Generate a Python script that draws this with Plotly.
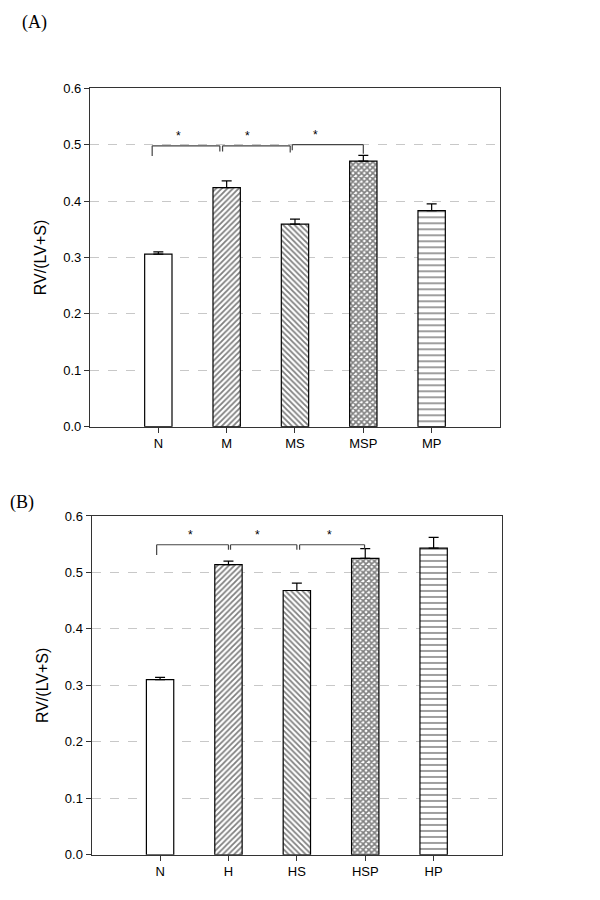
import plotly.graph_objects as go

# Panel A data
cats_a = ["N", "M", "MS", "MSP", "MP"]
vals_a = [0.306, 0.424, 0.359, 0.471, 0.383]
err_a = [0.004, 0.012, 0.009, 0.010, 0.012]

# Panel B data
cats_b = ["N", "H", "HS", "HSP", "HP"]
vals_b = [0.310, 0.514, 0.468, 0.525, 0.543]
err_b = [0.004, 0.006, 0.013, 0.017, 0.019]

patterns = ["", "/", "\\", "x", "-"]
pat_sizes = [6, 4, 4, 4, 6]
pat_solid = [0.2, 0.45, 0.45, 0.65, 0.25]

# significance brackets: (start index, end index, bracket level, left tick bottom, right tick bottom, star x)
brackets_a = [(-0.09, 0.90, 0.498, 0.480, 0.488, 0.30),
              (0.94, 1.93, 0.498, 0.488, 0.486, 1.31),
              (1.96, 3.00, 0.500, 0.490, 0.484, 2.30)]
brackets_b = [(-0.05, 1.00, 0.549, 0.531, 0.540, 0.44),
              (1.03, 2.00, 0.549, 0.540, 0.540, 1.43),
              (2.04, 2.99, 0.549, 0.540, 0.542, 2.48)]
star_offset = 0.018

fig = go.Figure()

def add_panel(cats, vals, errs, xa, ya):
    fig.add_trace(go.Bar(
        x=cats, y=vals, xaxis=xa, yaxis=ya, width=0.4,
        marker=dict(color="white", line=dict(color="black", width=1.2),
                    pattern=dict(shape=patterns, size=pat_sizes, solidity=pat_solid,
                                 fgcolor="black", bgcolor="white", fillmode="overlay")),
        error_y=dict(type="data", array=errs, arrayminus=[0]*len(errs), symmetric=False,
                     color="black", thickness=1.2, width=5),
        showlegend=False))

add_panel(cats_a, vals_a, err_a, "x", "y")
add_panel(cats_b, vals_b, err_b, "x2", "y2")

def add_brackets(brs, xr, yr):
    for x0, x1, lvl, b0, b1, sx in brs:
        for (a, b, c, d) in [(x0, lvl, x1, lvl), (x0, b0, x0, lvl), (x1, b1, x1, lvl)]:
            fig.add_shape(type="line", xref=xr, yref=yr, x0=a, y0=b, x1=c, y1=d,
                          line=dict(color="#444", width=1.2))
        fig.add_annotation(xref=xr, yref=yr, x=sx, y=lvl + star_offset, text="*",
                           showarrow=False, font=dict(family="Liberation Sans", size=12, color="black"))

add_brackets(brackets_a, "x", "y")
add_brackets(brackets_b, "x2", "y2")

axis_common = dict(showline=True, mirror=True, linecolor="#333", linewidth=1.3,
                   ticks="outside", ticklen=5, tickcolor="#333", automargin=False,
                   tickfont=dict(family="Liberation Sans", size=13, color="black"))
yaxis_common = dict(axis_common, range=[0, 0.6], dtick=0.1, tickformat=".1f",
                    showgrid=True, gridcolor="#c8c8c8", griddash="dash", gridwidth=1,
                    zeroline=False,
                    title=dict(text="RV/(LV+S)", font=dict(family="Liberation Sans", size=16, color="black"), standoff=12))
xaxis_common = dict(axis_common, range=[-1, 5], showgrid=False, zeroline=False)

fig.update_layout(
    template="none",
    width=600, height=900, margin=dict(l=0, r=0, t=0, b=0, autoexpand=False),
    paper_bgcolor="white", plot_bgcolor="white",
    xaxis=dict(xaxis_common, domain=[0.15, 0.8333], anchor="y"),
    yaxis=dict(yaxis_common, domain=[0.5259, 0.9019], anchor="x"),
    xaxis2=dict(xaxis_common, domain=[0.1528, 0.8367], anchor="y2"),
    yaxis2=dict(yaxis_common, domain=[0.0503, 0.4267], anchor="x2"),
    bargap=0.6,
)

fig.add_annotation(xref="paper", yref="paper", x=20/600, y=1-22/900, text="(A)", showarrow=False,
                   xanchor="left", yanchor="middle",
                   font=dict(family="Liberation Serif", size=18, color="black"))
fig.add_annotation(xref="paper", yref="paper", x=8/600, y=1-502/900, text="(B)", showarrow=False,
                   xanchor="left", yanchor="middle",
                   font=dict(family="Liberation Serif", size=18, color="black"))

fig.write_html("out.html", config={"displayModeBar": False},
               post_script="document.body.style.margin='0';document.body.style.overflow='hidden';")
